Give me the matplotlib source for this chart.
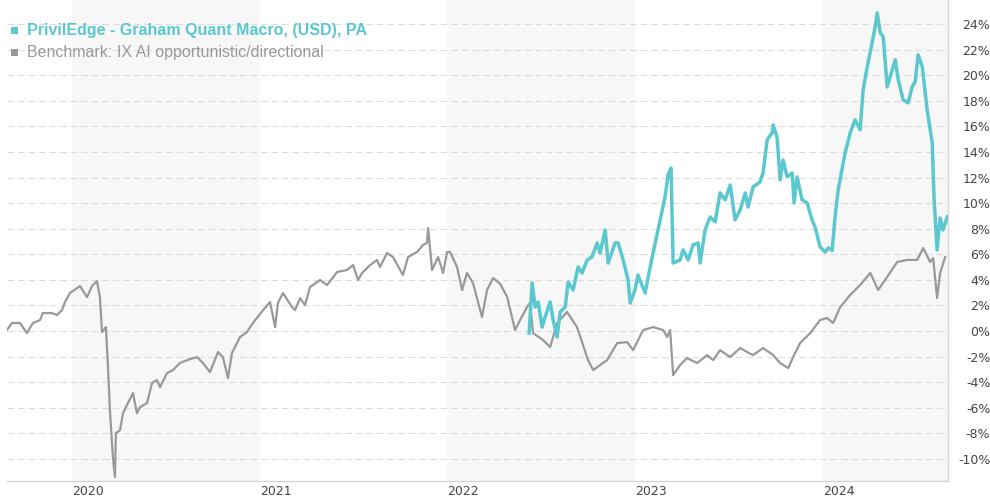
import matplotlib
matplotlib.use("Agg")
import matplotlib.pyplot as plt
from matplotlib.patches import Rectangle
from matplotlib.ticker import FuncFormatter

# ---------------- data (decimal year, cumulative performance in %) ----------------
bench_t = [2019.654, 2019.680, 2019.723, 2019.760, 2019.792, 2019.830, 2019.845, 2019.893,
           2019.920, 2019.947, 2019.963, 2019.989, 2020.043, 2020.080, 2020.107, 2020.133,
           2020.149, 2020.160, 2020.181, 2020.192, 2020.202, 2020.218, 2020.229, 2020.234,
           2020.256, 2020.272, 2020.298, 2020.325, 2020.346, 2020.362, 2020.400, 2020.426,
           2020.453, 2020.469, 2020.506, 2020.538, 2020.575, 2020.613, 2020.666, 2020.698,
           2020.735, 2020.778, 2020.804, 2020.831, 2020.852, 2020.895, 2020.932, 2020.964,
           2021.018, 2021.055, 2021.082, 2021.097, 2021.124, 2021.172, 2021.188, 2021.215,
           2021.241, 2021.268, 2021.321, 2021.359, 2021.412, 2021.465, 2021.497, 2021.524,
           2021.545, 2021.588, 2021.625, 2021.641, 2021.678, 2021.710, 2021.763, 2021.790,
           2021.838, 2021.870, 2021.891, 2021.897, 2021.918, 2021.950, 2021.977, 2021.998,
           2022.014, 2022.051, 2022.078, 2022.104, 2022.136, 2022.184, 2022.211, 2022.243,
           2022.280, 2022.318, 2022.360, 2022.387, 2022.424, 2022.440, 2022.456, 2022.509,
           2022.547, 2022.584, 2022.637, 2022.690, 2022.749, 2022.776, 2022.850, 2022.904,
           2022.957, 2022.989, 2023.042, 2023.095, 2023.149, 2023.170, 2023.186, 2023.202,
           2023.239, 2023.276, 2023.330, 2023.383, 2023.415, 2023.452, 2023.506, 2023.559,
           2023.596, 2023.628, 2023.681, 2023.735, 2023.772, 2023.815, 2023.841, 2023.878,
           2023.932, 2023.985, 2024.022, 2024.054, 2024.092, 2024.145, 2024.198, 2024.252,
           2024.294, 2024.342, 2024.395, 2024.449, 2024.502, 2024.534, 2024.571, 2024.587,
           2024.608, 2024.624, 2024.651]
bench_v = [0.08, 0.63, 0.63, -0.16, 0.63, 0.86, 1.41, 1.41,
           1.25, 1.64, 2.27, 2.97, 3.52, 2.66, 3.52, 3.91,
           2.66, -0.08, 0.31, -2.82, -6.18, -9.86, -11.42, -7.98,
           -7.75, -6.42, -5.63, -4.85, -6.42, -5.95, -5.63, -4.07,
           -3.83, -4.38, -3.29, -3.05, -2.50, -2.27, -2.03, -2.50,
           -3.21, -1.64, -2.03, -3.68, -1.72, -0.47, -0.08, 0.63,
           1.64, 2.27, 0.31, 2.19, 2.97, 1.88, 1.64, 2.58,
           2.03, 3.44, 3.99, 3.60, 4.62, 4.77, 5.16, 3.99,
           4.54, 5.16, 5.56, 5.01, 6.10, 5.79, 4.38, 5.79,
           6.18, 6.73, 6.89, 8.06, 4.77, 5.79, 4.54, 6.18,
           6.18, 5.01, 3.21, 4.54, 3.76, 1.10, 3.21, 4.15,
           3.70, 2.66, 0.08, 0.86, 1.88, 2.19, -0.16, -0.70,
           -1.25, 0.63, 1.49, 0.31, -2.27, -3.05, -2.27, -0.94,
           -0.86, -1.49, 0.08, 0.31, 0.08, -0.47, 0.08, -3.44,
           -2.66, -2.11, -2.50, -1.88, -2.27, -1.49, -2.03, -1.33,
           -1.64, -1.88, -1.33, -1.88, -2.50, -2.90, -2.03, -0.94,
           -0.16, 0.86, 1.02, 0.63, 1.88, 2.82, 3.60, 4.54,
           3.21, 4.23, 5.40, 5.56, 5.56, 6.49, 5.40, 5.71,
           2.58, 4.54, 5.79]

fund_t = [2022.435, 2022.451, 2022.467, 2022.483, 2022.504, 2022.520, 2022.547, 2022.563,
          2022.584, 2022.600, 2022.627, 2022.643, 2022.669, 2022.696, 2022.717, 2022.744,
          2022.770, 2022.797, 2022.813, 2022.840, 2022.856, 2022.893, 2022.909, 2022.936,
          2022.962, 2022.973, 2022.999, 2023.015, 2023.053, 2023.069, 2023.095, 2023.133,
          2023.159, 2023.175, 2023.191, 2023.202, 2023.239, 2023.255, 2023.282, 2023.308,
          2023.335, 2023.346, 2023.372, 2023.399, 2023.426, 2023.452, 2023.479, 2023.506,
          2023.532, 2023.559, 2023.586, 2023.601, 2023.628, 2023.665, 2023.681, 2023.703,
          2023.729, 2023.735, 2023.756, 2023.772, 2023.788, 2023.809, 2023.836, 2023.846,
          2023.862, 2023.889, 2023.916, 2023.942, 2023.958, 2023.985, 2024.012, 2024.028,
          2024.049, 2024.065, 2024.081, 2024.118, 2024.145, 2024.171, 2024.198, 2024.214,
          2024.236, 2024.262, 2024.278, 2024.289, 2024.305, 2024.321, 2024.342, 2024.369,
          2024.385, 2024.401, 2024.427, 2024.454, 2024.475, 2024.491, 2024.507, 2024.529,
          2024.555, 2024.582, 2024.592, 2024.608, 2024.624, 2024.640, 2024.662]
fund_v = [-0.16, 3.76, 1.88, 2.27, 0.31, 1.10, 2.27, 0.86,
          -0.47, 1.49, 1.88, 3.83, 3.21, 5.01, 4.54, 5.56,
          5.79, 6.89, 6.10, 7.90, 5.32, 6.89, 6.89, 5.56,
          3.99, 2.19, 3.21, 4.38, 2.97, 4.23, 6.10, 8.69,
          10.49, 12.21, 12.75, 5.32, 5.56, 6.34, 5.56, 6.73,
          6.89, 5.32, 7.90, 8.92, 8.53, 10.80, 10.25, 11.42,
          8.69, 9.47, 10.80, 9.70, 11.27, 11.66, 12.36, 14.95,
          15.49, 16.12, 15.10, 11.82, 13.38, 12.05, 12.36, 10.02,
          12.05, 10.25, 10.02, 8.69, 8.14, 6.57, 6.18, 6.50,
          6.30, 9.00, 11.03, 13.93, 15.49, 16.51, 15.73, 18.86,
          20.66, 22.54, 23.79, 24.88, 23.32, 23.00, 19.09, 20.42,
          21.21, 19.64, 18.08, 17.84, 19.09, 19.48, 21.60, 20.66,
          17.29, 14.71, 10.25, 6.34, 8.84, 7.90, 8.92]

year_ticks = [2020, 2021, 2022, 2023, 2024]
y_ticks = list(range(-10, 25, 2))
fund_name = "PrivilEdge - Graham Quant Macro, (USD), PA"
bench_name = "Benchmark: IX AI opportunistic/directional"

TEAL = "#5bc8cf"
GREY = "#999999"

# ---------------- figure ----------------
W, H = 990, 500
fig = plt.figure(figsize=(W / 100, H / 100), dpi=100)
x0, x1, ytop, ybot = 7, 948, 0, 481
ax = fig.add_axes([x0 / W, (H - ybot) / H, (x1 - x0) / W, (ybot - ytop) / H])

ax.set_xlim(2019.654, 2024.666)
ax.set_ylim(-11.72, 25.88)

# alternating year bands
for yr in year_ticks:
    if yr % 2 == 0:
        ax.axvspan(yr, yr + 1, color="#f7f7f7", lw=0, zorder=0)

# grid
for v in y_ticks:
    ax.axhline(v, color="#dcdcdc", lw=0.8, ls=(0, (6, 3.5)), zorder=1)

ax.plot(bench_t, bench_v, color=GREY, lw=1.6, solid_joinstyle="round", zorder=3)
ax.plot(fund_t, fund_v, color=TEAL, lw=2.5, solid_joinstyle="round", zorder=4)

# spines
for s in ["left", "top"]:
    ax.spines[s].set_visible(False)
ax.spines["bottom"].set_color("#d6d6d6")
ax.spines["right"].set_color("#d6d6d6")
ax.spines["bottom"].set_linewidth(1.0)
ax.spines["right"].set_linewidth(1.0)

# y ticks on right
ax.yaxis.tick_right()
ax.set_yticks(y_ticks)
ax.yaxis.set_major_formatter(FuncFormatter(lambda v, p: f"{int(v)}%"))
ax.tick_params(axis="y", length=0, pad=30.5, labelsize=9, labelcolor="#444444")
for lab in ax.get_yticklabels():
    lab.set_horizontalalignment("right")
    lab.set_family("DejaVu Sans")

# x ticks
ax.set_xticks(year_ticks)
ax.set_xticklabels([str(y) for y in year_ticks])
ax.tick_params(axis="x", length=0, pad=3, labelsize=9, labelcolor="#444444")
for lab in ax.get_xticklabels():
    lab.set_horizontalalignment("left")
    lab.set_family("DejaVu Sans")

# legend (top-left)
def fx(px):
    return px / W

def fy(py):
    return 1 - py / H

fig.patches.append(Rectangle((fx(11), fy(34)), 7 / W, 7 / H, transform=fig.transFigure,
                             color=TEAL, lw=0, zorder=5))
fig.patches.append(Rectangle((fx(11), fy(56)), 7 / W, 7 / H, transform=fig.transFigure,
                             color=GREY, lw=0, zorder=5))
fig.text(fx(27), fy(30.5), fund_name, color=TEAL, fontsize=11.5, fontweight="bold",
         family="Liberation Sans", va="center", ha="left")
fig.text(fx(27), fy(52.5), bench_name, color=GREY, fontsize=11.5,
         family="Liberation Sans", va="center", ha="left")

fig.savefig("out.png", dpi=100)
